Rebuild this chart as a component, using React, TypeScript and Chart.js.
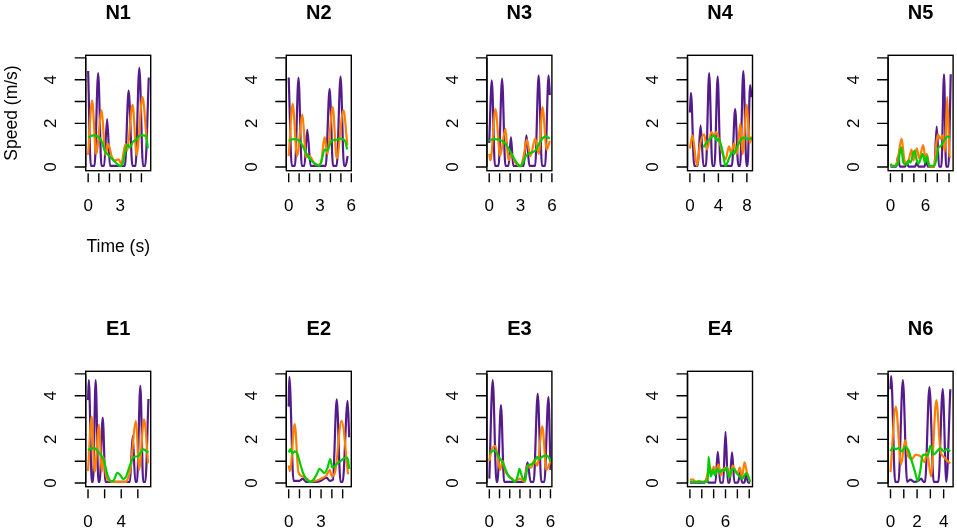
import React, { useEffect, useRef } from 'react';
import { Chart, registerables } from 'chart.js';

Chart.register(...registerables);

type Pt = [number, number];

// panel titles, in drawing order (top row then bottom row)
const panelNames = ['N1', 'N2', 'N3', 'N4', 'N5', 'E1', 'E2', 'E3', 'E4', 'N6'];

// y axis (speed, m/s)
const yTicks = [0, 1, 2, 3, 4, 5];
const yTickLabels = [0, 2, 4];
const yLimits: [number, number] = [-0.17, 5.12];

// x axis (time, s) per panel
const xLimits: [number, number][] = [
    [-0.23, 5.87], [-0.23, 6.0], [-0.22, 6.0], [-0.34, 8.79], [-0.4, 10.7],
    [-0.28, 7.55], [-0.22, 5.8], [-0.24, 6.14], [-0.41, 10.55], [-0.18, 4.71],
];
const xTicks: number[][] = [
    [0, 1, 2, 3, 4, 5], [0, 1, 2, 3, 4, 5, 6], [0, 1, 2, 3, 4, 5, 6], [0, 2, 4, 6, 8], [0, 2, 4, 6, 8, 10],
    [0, 2, 4, 6], [0, 1, 2, 3, 4, 5], [0, 1, 2, 3, 4, 5, 6], [0, 2, 4, 6, 8, 10], [0, 1, 2, 3, 4],
];
const xTickLabels: number[][] = [
    [0, 3], [0, 3, 6], [0, 3, 6], [0, 4, 8], [0, 6],
    [0, 4], [0, 3], [0, 3, 6], [0, 6], [0, 2, 4],
];

// ---- N1 ----
const n1Purple: Pt[] = [[0, 4.4], [0.25, 0.05], [0.6, 0.05], [0.94, 4.3], [1.25, 0.05], [1.5, 0.05], [1.78, 2.2], [2.05, 0.05], [3.45, 0.05], [3.8, 3.5], [4.15, 0.05], [4.45, 0.05], [4.8, 4.55], [5.15, 0.05], [5.35, 0.05], [5.69, 4.1]];
const n1Orange: Pt[] = [[0, 0.55], [0.37, 3.05], [0.75, 0.6], [1.28, 2.6], [1.6, 0.55], [1.9, 1.05], [2.2, 0.5], [2.5, 0.3], [2.85, 0.35], [3.1, 0.15], [3.5, 1.05], [3.65, 0.75], [4.17, 2.85], [4.55, 0.55], [5.1, 3.2], [5.5, 1.2]];
const n1Green: Pt[] = [[0, 1.35], [0.5, 1.45], [0.9, 1.4], [1.2, 1.25], [1.6, 0.7], [1.8, 0.6], [2.1, 0.45], [2.4, 0.3], [2.7, 0.15], [3.0, 0.05], [3.2, 0.1], [3.6, 0.95], [3.75, 1.0], [3.9, 0.9], [4.2, 1.15], [4.5, 1.25], [4.9, 1.45], [5.2, 1.45], [5.45, 1.4], [5.6, 0.85]];

// ---- N2 ----
const n2Purple: Pt[] = [[0, 4.1], [0.3, 0.05], [0.6, 0.05], [0.94, 4.1], [1.25, 0.05], [1.5, 0.05], [1.78, 1.7], [2.1, 0.05], [3.55, 0.05], [3.92, 3.58], [4.25, 0.05], [4.6, 0.05], [4.97, 4.15], [5.3, 0.05], [5.45, 0.05], [5.65, 0.5]];
const n2Orange: Pt[] = [[0, 0.5], [0.38, 2.9], [0.8, 0.5], [1.32, 2.4], [1.65, 0.45], [2.0, 0.5], [2.4, 0.2], [2.8, 0.1], [3.1, 0.2], [3.44, 1.37], [3.7, 0.6], [4.22, 2.75], [4.6, 0.4], [5.25, 2.6], [5.62, 1.0]];
const n2Green: Pt[] = [[0, 1.2], [0.5, 1.28], [0.9, 1.25], [1.3, 1.0], [1.6, 0.7], [2.0, 0.4], [2.5, 0.15], [2.9, 0.05], [3.1, 0.2], [3.45, 0.8], [3.65, 0.75], [3.8, 0.85], [4.1, 1.2], [4.6, 1.25], [5.0, 1.3], [5.4, 1.2], [5.6, 0.8]];

// ---- N3 ----
const n3Purple: Pt[] = [[0, 1.1], [0.25, 3.97], [0.55, 0.05], [0.9, 0.05], [1.23, 4.05], [1.55, 0.05], [1.85, 0.05], [2.08, 1.37], [2.3, 0.05], [3.3, 0.05], [3.56, 1.45], [3.85, 0.05], [4.4, 0.05], [4.73, 4.2], [5.05, 0.05], [5.35, 0.05], [5.68, 4.2], [5.8, 3.3]];
const n3Orange: Pt[] = [[0, 0.6], [0.12, 0.3], [0.6, 2.65], [1.05, 0.5], [1.55, 1.75], [1.85, 0.3], [2.1, 0.6], [2.5, 0.2], [3.0, 0.05], [3.3, 0.5], [3.6, 1.25], [3.95, 0.5], [4.4, 1.3], [4.75, 0.6], [5.1, 2.75], [5.5, 0.8], [5.8, 1.2]];
const n3Green: Pt[] = [[0, 1.2], [0.5, 1.28], [1.0, 1.25], [1.5, 1.1], [1.9, 0.8], [2.3, 0.45], [2.7, 0.15], [2.95, 0.03], [3.2, 0.15], [3.5, 0.5], [3.8, 0.6], [4.2, 0.7], [4.4, 0.75], [4.7, 1.0], [5.0, 1.25], [5.4, 1.4], [5.8, 1.3]];

// ---- N4 ----
const n4Purple: Pt[] = [[0, 2.5], [0.15, 3.4], [0.6, 0.05], [1.1, 0.05], [1.5, 1.9], [1.9, 0.05], [2.25, 0.05], [2.7, 4.3], [3.15, 0.05], [3.45, 0.05], [3.9, 4.15], [4.3, 0.05], [5.9, 0.05], [6.35, 2.65], [6.8, 0.05], [7.05, 0.05], [7.5, 4.4], [7.95, 0.05], [8.1, 0.05], [8.45, 3.75], [8.65, 3.2]];
const n4Orange: Pt[] = [[0, 0.85], [0.35, 1.45], [1.0, 0.05], [1.4, 1.0], [2.0, 1.5], [2.4, 0.8], [3.0, 1.6], [3.4, 1.45], [3.7, 1.6], [4.2, 1.1], [4.6, 0.6], [5.0, 0.35], [5.5, 0.95], [5.8, 0.6], [6.2, 1.1], [6.6, 0.6], [7.1, 2.0], [7.4, 0.6], [8.0, 2.85], [8.4, 1.1], [8.65, 1.4]];
const n4Green: Pt[] = [[1.87, 0.9], [2.3, 1.1], [3.0, 1.35], [3.4, 1.45], [3.8, 1.2], [4.0, 1.3], [4.6, 0.7], [5.0, 0.05], [5.5, 0.4], [6.0, 0.7], [6.2, 0.6], [6.5, 0.85], [7.0, 1.15], [7.5, 1.35], [8.0, 1.3], [8.65, 1.3]];

// ---- N5 ----
const n5Purple: Pt[] = [[0, 0.02], [1.0, 0.02], [1.3, 0.5], [1.6, 0.02], [2.5, 0.02], [2.8, 0.2], [3.1, 0.02], [4.2, 0.02], [4.5, 0.2], [4.8, 0.02], [5.8, 0.02], [6.1, 0.3], [6.4, 0.02], [7.5, 0.02], [7.9, 1.85], [8.3, 0.02], [8.7, 0.02], [9.15, 4.25], [9.5, 0.02], [9.9, 0.02], [10.3, 4.25]];
const n5Orange: Pt[] = [[0, 0.05], [0.8, 0.05], [1.3, 0.45], [1.9, 1.3], [2.4, 0.3], [2.8, 0.2], [3.2, 0.4], [3.6, 0.8], [3.9, 0.3], [4.5, 0.85], [4.9, 0.4], [5.6, 1.0], [6.0, 0.3], [6.2, 0.6], [6.6, 0.1], [6.8, 0.02], [7.5, 0.02], [7.8, 1.0], [8.1, 1.5], [8.5, 1.3], [8.9, 1.45], [9.3, 0.7], [9.7, 3.2], [10.1, 0.5], [10.3, 0.45]];
const n5Green: Pt[] = [[0, 0.15], [0.3, 0.05], [0.9, 0.05], [1.3, 0.2], [1.85, 0.9], [2.2, 0.2], [2.8, 0.1], [3.1, 0.3], [3.4, 0.2], [4.1, 0.75], [4.5, 0.3], [4.8, 0.15], [5.5, 0.6], [5.9, 0.2], [6.2, 0.5], [6.6, 0.05], [7.4, 0.05], [7.8, 0.3], [8.2, 0.9], [8.6, 0.95], [9.0, 1.15], [9.4, 1.3], [9.8, 1.4], [10.2, 1.35]];

// ---- E1 ----
const e1Purple: Pt[] = [[0, 3.8], [0.1, 4.72], [0.45, 0.05], [0.6, 0.05], [0.92, 4.72], [1.25, 0.05], [1.4, 0.05], [1.77, 3.0], [2.1, 0.05], [5.05, 0.05], [5.38, 2.15], [5.7, 0.05], [5.9, 0.05], [6.3, 4.45], [6.65, 0.05], [6.9, 0.05], [7.28, 3.85]];
const e1Orange: Pt[] = [[0, 0.55], [0.44, 3.04], [0.8, 0.5], [1.33, 2.66], [1.65, 0.5], [1.85, 1.2], [2.2, 0.3], [2.6, 0.1], [3.0, 0.05], [4.6, 0.05], [4.8, 0.2], [5.1, 0.6], [5.78, 2.84], [6.15, 0.6], [6.75, 2.92], [7.24, 0.9]];
const e1Green: Pt[] = [[0, 1.5], [0.44, 1.6], [0.8, 1.6], [1.2, 1.45], [1.6, 1.25], [1.9, 1.05], [2.4, 0.3], [2.8, 0.08], [3.05, 0.1], [3.53, 0.47], [3.9, 0.35], [4.25, 0.18], [4.6, 0.3], [4.86, 0.6], [5.54, 1.2], [6.0, 1.22], [6.27, 1.36], [6.67, 1.54], [7.27, 1.39]];

// ---- E2 ----
const e2Purple: Pt[] = [[0, 3.5], [0.06, 4.87], [0.45, 0.1], [1.0, 0.1], [1.3, 0.2], [1.6, 0.05], [2.5, 0.05], [3.0, 0.1], [3.5, 0.25], [3.8, 0.1], [4.1, 0.15], [4.45, 3.83], [4.8, 0.05], [5.0, 0.05], [5.46, 3.77], [5.6, 2.1]];
const e2Orange: Pt[] = [[0, 0.8], [0.12, 0.55], [0.56, 2.7], [0.9, 0.5], [1.3, 0.3], [1.8, 0.15], [2.0, 0.05], [2.5, 0.1], [3.0, 0.2], [3.5, 0.35], [3.8, 0.6], [4.0, 0.3], [4.3, 0.5], [4.9, 2.85], [5.5, 0.4]];
const e2Green: Pt[] = [[0, 1.4], [0.15, 1.55], [0.35, 1.35], [0.55, 1.45], [0.75, 1.4], [1.0, 1.0], [1.3, 0.5], [1.6, 0.2], [2.0, 0.05], [2.3, 0.15], [2.6, 0.4], [2.85, 0.65], [3.1, 0.55], [3.3, 0.45], [3.6, 0.7], [3.85, 1.1], [4.05, 0.7], [4.2, 0.75], [4.5, 0.9], [4.8, 1.0], [5.2, 1.15], [5.45, 1.15], [5.6, 0.65]];

// ---- E3 ----
const e3Purple: Pt[] = [[0, 0.2], [0.33, 4.72], [0.7, 0.05], [0.8, 0.05], [1.14, 3.57], [1.45, 0.05], [3.4, 0.05], [3.75, 0.95], [4.05, 0.05], [4.35, 0.05], [4.75, 4.1], [5.1, 0.05], [5.4, 0.05], [5.8, 3.95], [6.0, 0.6]];
const e3Orange: Pt[] = [[0, 1.0], [0.15, 1.4], [0.6, 1.7], [1.05, 0.6], [1.3, 1.0], [1.6, 0.5], [2.0, 0.3], [2.5, 0.1], [3.0, 0.2], [3.5, 0.05], [3.7, 0.8], [4.1, 0.7], [4.4, 1.05], [4.7, 0.8], [5.2, 2.6], [5.6, 0.6], [6.0, 1.0]];
const e3Green: Pt[] = [[0, 1.35], [0.5, 1.5], [0.9, 1.2], [1.3, 0.95], [1.6, 0.6], [1.9, 0.3], [2.2, 0.2], [2.5, 0.05], [2.8, 0.35], [2.95, 0.65], [3.2, 0.3], [3.5, 0.1], [3.75, 0.75], [4.1, 0.85], [4.4, 0.95], [4.7, 1.2], [4.9, 1.1], [5.2, 1.2], [5.5, 1.25], [5.8, 1.2], [6.0, 1.0]];

// ---- E4 ----
const e4Purple: Pt[] = [[0, 0.02], [2.5, 0.02], [2.8, 0.2], [3.1, 0.02], [4.3, 0.02], [4.7, 1.43], [5.1, 0.02], [5.6, 0.02], [6.0, 2.35], [6.4, 0.02], [6.7, 0.02], [7.1, 1.4], [7.5, 0.02], [8.1, 0.02], [8.5, 0.5], [8.8, 0.02], [9.2, 0.02], [9.5, 0.4], [9.8, 0.02], [10.15, 0.02]];
const e4Orange: Pt[] = [[0, 0.15], [0.5, 0.15], [1.0, 0.05], [1.5, 0.1], [2.0, 0.05], [2.6, 0.05], [3.3, 0.8], [3.7, 0.4], [4.0, 0.75], [4.3, 0.4], [4.8, 0.85], [5.2, 0.35], [5.5, 0.6], [6.3, 0.7], [6.8, 0.3], [7.2, 0.8], [7.6, 0.6], [8.0, 0.4], [8.4, 0.7], [8.8, 0.3], [9.2, 0.95], [9.6, 0.5], [10.15, 0.05]];
const e4Green: Pt[] = [[0, 0.05], [3.0, 0.05], [3.15, 1.2], [3.5, 0.3], [3.9, 0.6], [4.2, 0.35], [4.6, 0.65], [5.0, 0.5], [5.4, 0.6], [5.8, 0.55], [6.2, 0.7], [6.6, 0.25], [7.0, 0.6], [7.4, 0.65], [7.9, 0.45], [8.4, 0.3], [8.8, 0.2], [9.5, 0.45], [10.15, 0.05]];

// ---- N6 ----
const n6Purple: Pt[] = [[0, 4.3], [0.05, 4.9], [0.35, 0.05], [0.6, 0.05], [0.93, 4.72], [1.25, 0.05], [1.5, 0.15], [1.8, 0.05], [2.1, 0.1], [2.3, 0.2], [2.5, 0.05], [2.6, 0.05], [2.93, 4.4], [3.25, 0.05], [3.6, 0.05], [3.93, 4.3], [4.2, 0.05], [4.5, 4.3]];
const n6Orange: Pt[] = [[0, 0.5], [0.4, 3.5], [0.8, 0.85], [1.1, 1.95], [1.3, 1.3], [1.6, 1.1], [1.9, 1.3], [2.3, 1.2], [2.55, 0.95], [2.75, 1.4], [3.05, 0.3], [3.45, 3.8], [3.75, 1.5], [4.0, 1.2], [4.3, 1.0], [4.5, 0.9]];
const n6Green: Pt[] = [[0, 1.45], [0.2, 1.65], [0.4, 1.55], [0.6, 1.6], [0.85, 1.45], [1.1, 1.65], [1.35, 1.5], [1.6, 1.0], [1.85, 0.5], [2.05, 0.1], [2.25, 0.6], [2.4, 1.25], [2.6, 1.3], [2.8, 1.25], [3.0, 1.7], [3.25, 1.3], [3.5, 1.45], [3.75, 1.6], [4.0, 1.45], [4.25, 1.55], [4.5, 1.45]];

const purpleSeries = [n1Purple, n2Purple, n3Purple, n4Purple, n5Purple, e1Purple, e2Purple, e3Purple, e4Purple, n6Purple];
const orangeSeries = [n1Orange, n2Orange, n3Orange, n4Orange, n5Orange, e1Orange, e2Orange, e3Orange, e4Orange, n6Orange];
const greenSeries = [n1Green, n2Green, n3Green, n4Green, n5Green, e1Green, e2Green, e3Green, e4Green, n6Green];

const FONT = '"Liberation Sans", Arial, Helvetica, sans-serif';
const BOX_W = 65;
const BOX_H = 115.4;
const BOX_TOP = 55.3;
const COL_STEP = 200.6;
const ROW_STEP = 316;
const CANVAS_W = 170;

const toXY = (pts: Pt[]) => pts.map(([x, y]) => ({ x, y }));

function Panel({ index }: { index: number }) {
    const canvasRef = useRef<HTMLCanvasElement | null>(null);
    const col = index % 5;
    const row = Math.floor(index / 5);
    const canvasLeft = Math.round(col * COL_STEP);
    const canvasTop = row * ROW_STEP;
    const canvasH = row === 0 ? 265 : 530 - ROW_STEP;
    const padLeft = 85.7 + col * COL_STEP - canvasLeft;

    useEffect(() => {
        if (!canvasRef.current) return;

        // R-style box, axes, tick labels and titles
        const frame = {
            id: 'rFrame',
            afterDraw(chart: Chart) {
                const { ctx, chartArea: a } = chart;
                const xs = chart.scales.x;
                const ys = chart.scales.y;
                ctx.save();
                ctx.strokeStyle = '#000';
                ctx.lineWidth = 1.4;
                ctx.strokeRect(a.left, a.top, a.right - a.left, a.bottom - a.top);

                ctx.beginPath();
                for (const v of yTicks) {
                    const y = ys.getPixelForValue(v);
                    ctx.moveTo(a.left, y);
                    ctx.lineTo(a.left - 11, y);
                }
                ctx.moveTo(a.left, ys.getPixelForValue(0));
                ctx.lineTo(a.left, ys.getPixelForValue(5));
                for (const t of xTicks[index]) {
                    const x = xs.getPixelForValue(t);
                    ctx.moveTo(x, a.bottom + 2.5);
                    ctx.lineTo(x, a.bottom + 11.5);
                }
                ctx.stroke();

                ctx.fillStyle = '#000';
                ctx.textAlign = 'center';
                ctx.textBaseline = 'middle';
                ctx.font = `17px ${FONT}`;
                for (const t of xTickLabels[index]) {
                    ctx.fillText(String(t), xs.getPixelForValue(t), a.bottom + 36);
                }
                for (const v of yTickLabels) {
                    ctx.save();
                    ctx.translate(a.left - 34, ys.getPixelForValue(v));
                    ctx.rotate(-Math.PI / 2);
                    ctx.fillText(String(v), 0, 0);
                    ctx.restore();
                }

                if (index === 0) {
                    ctx.font = `17.5px ${FONT}`;
                    ctx.fillText('Time (s)', (a.left + a.right) / 2, a.bottom + 76.6);
                    ctx.save();
                    ctx.translate(a.left - 73.4, (a.top + a.bottom) / 2);
                    ctx.rotate(-Math.PI / 2);
                    ctx.fillText('Speed (m/s)', 0, 0);
                    ctx.restore();
                }

                ctx.font = `bold 20px ${FONT}`;
                ctx.fillText(panelNames[index], (a.left + a.right) / 2, a.top - 42.3);
                ctx.restore();
            },
        };

        const lineStyle = {
            borderWidth: 2.2,
            pointRadius: 0,
            fill: false,
            cubicInterpolationMode: 'monotone' as const,
        };

        const chart = new Chart(canvasRef.current, {
            type: 'line',
            data: {
                datasets: [
                    { ...lineStyle, label: 'green', data: toXY(greenSeries[index]), borderColor: '#00CD00' },
                    { ...lineStyle, label: 'orange', data: toXY(orangeSeries[index]), borderColor: '#FF7F00' },
                    { ...lineStyle, label: 'purple', data: toXY(purpleSeries[index]), borderColor: '#551A8B' },
                ],
            },
            options: {
                responsive: false,
                animation: false,
                events: [],
                layout: {
                    autoPadding: false,
                    padding: {
                        left: padLeft,
                        top: BOX_TOP,
                        right: CANVAS_W - padLeft - BOX_W,
                        bottom: canvasH - BOX_TOP - BOX_H,
                    },
                },
                scales: {
                    x: { type: 'linear', min: xLimits[index][0], max: xLimits[index][1], display: false },
                    y: { type: 'linear', min: yLimits[0], max: yLimits[1], display: false },
                },
                plugins: {
                    legend: { display: false },
                    tooltip: { enabled: false },
                },
            },
            plugins: [frame],
        });

        return () => {
            chart.destroy();
        };
    }, [index]);

    return (
        <canvas
            ref={canvasRef}
            width={CANVAS_W}
            height={canvasH}
            style={{ position: 'absolute', left: canvasLeft, top: canvasTop, width: CANVAS_W, height: canvasH }}
        />
    );
}

export default function App() {
    return (
        <div style={{ position: 'absolute', left: 0, top: 0, width: 957, height: 530, overflow: 'hidden', background: '#fff' }}>
            {panelNames.map((name, i) => (
                <Panel key={name} index={i} />
            ))}
        </div>
    );
}
